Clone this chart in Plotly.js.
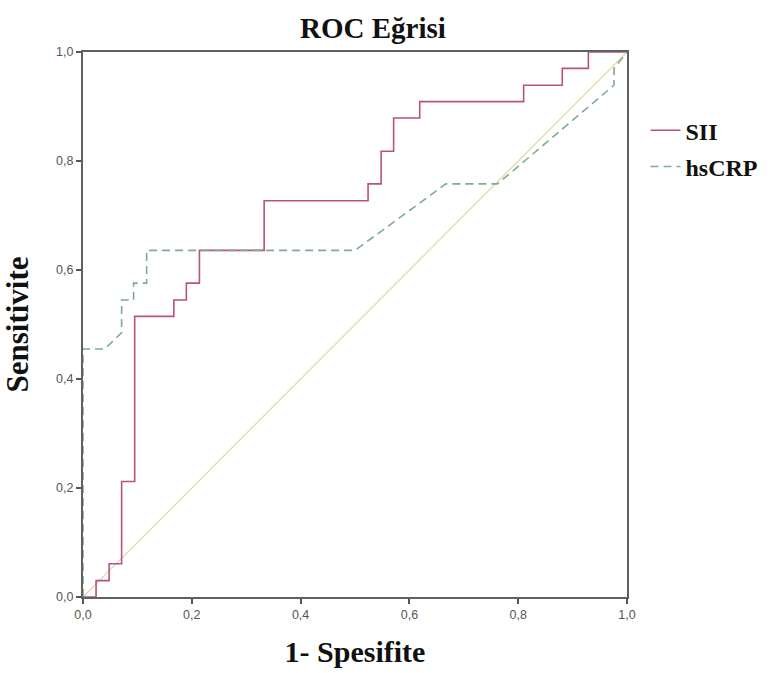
<!DOCTYPE html>
<html>
<head>
<meta charset="utf-8">
<script src="https://cdn.plot.ly/plotly-3.0.1.min.js"></script>
<style>html,body{margin:0;padding:0;background:#fff}#chart{width:782px;height:673px}</style>
</head>
<body>
<div id="chart"></div>
<script>
// ROC curve vertices (1 - specificity, sensitivity)
const siiX = [0, 0.024, 0.048, 0.071, 0.095, 0.167, 0.190, 0.214, 0.333, 0.524, 0.548, 0.571, 0.619, 0.810, 0.881, 0.929, 1];
const siiY = [0, 0.030, 0.061, 0.212, 0.515, 0.545, 0.576, 0.636, 0.727, 0.758, 0.818, 0.879, 0.909, 0.939, 0.970, 1.000, 1];

const crpX = [0, 0, 0.040, 0.071, 0.071, 0.093, 0.093, 0.117, 0.117, 0.500, 0.667, 0.762, 0.976, 0.976, 1];
const crpY = [0, 0.455, 0.455, 0.485, 0.545, 0.545, 0.576, 0.576, 0.636, 0.636, 0.758, 0.758, 0.939, 0.970, 1];

const refX = [0, 1];
const refY = [0, 1];

const tickVals = [0, 0.2, 0.4, 0.6, 0.8, 1.0];

const serif = 'Liberation Serif, Times New Roman, serif';

const traces = [
  {x: refX, y: refY, mode: 'lines', showlegend: false, hoverinfo: 'skip',
   line: {color: '#dcdfae', width: 1.3}},
  {x: siiX, y: siiY, mode: 'lines', name: '<b>SII</b>', legendgroup: 'a',
   line: {color: '#b8527f', width: 1.6, shape: 'hv'}},
  {x: crpX, y: crpY, mode: 'lines', name: '<b>hsCRP</b>', legendgroup: 'b',
   line: {color: '#7fab90', width: 1.6, dash: '8px,5px'}}
];

const axisCommon = {
  range: [0, 1],
  tickvals: tickVals,
  tickformat: '.1f',
  ticks: 'outside',
  ticklen: 5,
  tickwidth: 2,
  tickcolor: '#555',
  showline: true,
  linecolor: '#606060',
  linewidth: 2,
  mirror: true,
  showgrid: false,
  zeroline: false,
  tickfont: {family: 'Liberation Sans, Arial, sans-serif', size: 12.5, color: '#555'}
};

const layout = {
  width: 782,
  height: 673,
  separators: ',.',
  paper_bgcolor: '#fff',
  plot_bgcolor: '#fff',
  margin: {l: 83, r: 155, t: 52, b: 76},
  title: {text: '<b>ROC Eğrisi</b>', xref: 'paper', x: 0.533, xanchor: 'center', y: 0.958, yanchor: 'middle',
          font: {family: serif, size: 29, color: '#111'}},
  xaxis: Object.assign({}, axisCommon, {
    title: {text: '<b>1- Spesifite</b>', standoff: 20, font: {family: serif, size: 30, color: '#111'}}
  }),
  yaxis: Object.assign({}, axisCommon, {
    title: {text: '<b>Sensitivite</b>', standoff: 18, font: {family: serif, size: 31, color: '#111'}}
  }),
  legend: {
    x: 1.034, xanchor: 'left', y: 0.897, yanchor: 'top',
    font: {family: serif, size: 24, color: '#111'},
    traceorder: 'grouped', tracegroupgap: 2,
    bgcolor: 'rgba(0,0,0,0)', itemwidth: 30
  },
  showlegend: true
};

Plotly.newPlot('chart', traces, layout, {displayModeBar: false, staticPlot: true});
</script>
</body>
</html>
